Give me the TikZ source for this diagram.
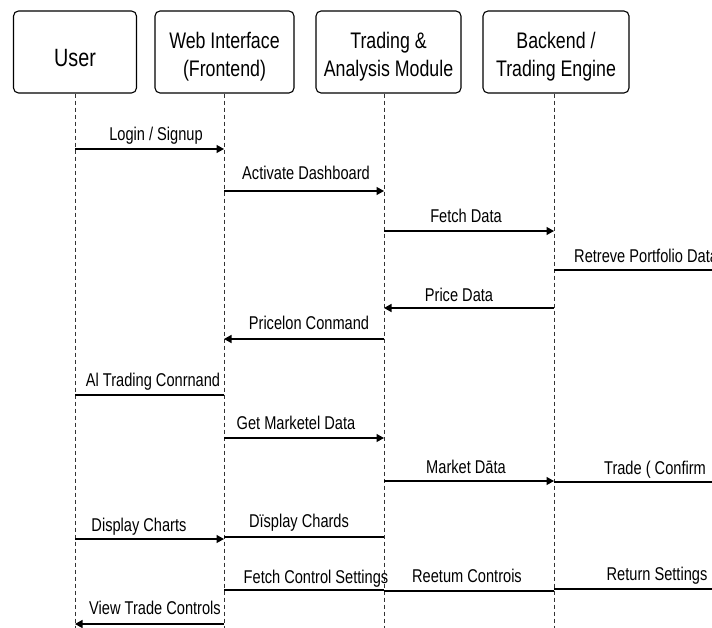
\documentclass[tikz,border=0pt]{standalone}
\usepackage{fontspec}
\setmainfont{Liberation Sans}[FakeStretch=0.79]
\usetikzlibrary{arrows.meta}
\begin{document}
\begin{tikzpicture}[x=1pt,y=-1pt,
  actor/.style={draw, line width=1.1pt, rounded corners=5pt, minimum height=82pt, inner sep=0pt},
  atext/.style={align=center, inner sep=0pt, font=\fontsize{22.5}{28}\selectfont},
  life/.style={line width=0.8pt, black!80, dash pattern=on 4pt off 3pt},
  msg/.style={line width=1.3pt},
  arr/.style={msg, -{Triangle[length=7.5pt,width=8pt]}},
  lbl/.style={anchor=base, inner sep=0pt, font=\fontsize{18.5}{22}\selectfont}]
\useasboundingbox (0,0) rectangle (712,628);
\clip (0,0) rectangle (712,628);
% actors
\node[actor, minimum width=123pt] (ub) at (75,52) {};
\node[actor, minimum width=139pt] (wb) at (224.5,52) {};
\node[actor, minimum width=145pt] (tb) at (388.5,52) {};
\node[actor, minimum width=146pt] (bb) at (556,52) {};
\node[atext, font=\fontsize{25}{28}\selectfont] (ut) at ([yshift=-6pt]ub.center) {User};
\node[atext] (wt) at ([yshift=-4.5pt]wb.center) {Web Interface\\(Frontend)};
\node[atext] (tt) at ([yshift=-4.5pt]tb.center) {Trading \&\\Analysis Module};
\node[atext] (bt) at ([yshift=-4.5pt]bb.center) {Backend /\\Trading Engine};
% lifeline ends
\coordinate (ul) at (75,628);
\coordinate (wl) at (224,628);
\coordinate (tl) at (384,628);
\coordinate (bl) at (554,628);
\draw[life] (ub.south -| ul) -- (ul);
\draw[life] (wb.south -| wl) -- (wl);
\draw[life] (tb.south -| tl) -- (tl);
\draw[life] (bb.south -| bl) -- (bl);
% message end points
\coordinate (m1a) at (75,149);  \coordinate (m1b) at (224,149);
\coordinate (m2a) at (224,191); \coordinate (m2b) at (384,191);
\coordinate (m3a) at (384,231); \coordinate (m3b) at (554,231);
\coordinate (m4a) at (554,270); \coordinate (m4b) at (712,270);
\coordinate (m5a) at (554,308); \coordinate (m5b) at (384,308);
\coordinate (m6a) at (384,339); \coordinate (m6b) at (224,339);
\coordinate (m7a) at (75,395);  \coordinate (m7b) at (224,395);
\coordinate (m8a) at (224,438); \coordinate (m8b) at (384,438);
\coordinate (m9a) at (384,481); \coordinate (m9b) at (554,481);
\coordinate (m10a) at (554,482); \coordinate (m10b) at (712,482);
\coordinate (m11a) at (75,539); \coordinate (m11b) at (224,539);
\coordinate (m12a) at (224,537); \coordinate (m12b) at (384,537);
\coordinate (m13a) at (224,590); \coordinate (m13b) at (384,590);
\coordinate (m14a) at (384,591); \coordinate (m14b) at (554,591);
\coordinate (m15a) at (554,589); \coordinate (m15b) at (712,589);
\coordinate (m16a) at (224,624); \coordinate (m16b) at (75,624);
% connectors
\draw[arr] (m1a) -- (m1b);
\draw[arr] (m2a) -- (m2b);
\draw[arr] (m3a) -- (m3b);
\draw[msg] (m4a) -- (m4b);
\draw[arr] (m5a) -- (m5b);
\draw[arr] (m6a) -- (m6b);
\draw[msg] (m7a) -- (m7b);
\draw[arr] (m8a) -- (m8b);
\draw[arr] (m9a) -- (m9b);
\draw[msg] (m10a) -- (m10b);
\draw[arr] (m11a) -- (m11b);
\draw[msg] (m12a) -- (m12b);
\draw[msg] (m13a) -- (m13b);
\draw[msg] (m14a) -- (m14b);
\draw[msg] (m15a) -- (m15b);
\draw[arr] (m16a) -- (m16b);
% labels
\node[lbl] (l1) at (156,141) {Login / Signup};
\node[lbl] (l2) at (306,180) {Activate Dashboard};
\node[lbl] (l3) at (466,222.5) {Fetch Data};
\node[lbl, anchor=base west] (l4) at (574,262.5) {Retreve Portfolio Data};
\node[lbl] (l5) at (459,301.5) {Price Data};
\node[lbl] (l6) at (309,330) {Pricelon Conmand};
\node[lbl] (l7) at (153,386) {Al Trading Conrnand};
\node[lbl] (l8) at (296,429) {Get Marketel Data};
\node[lbl] (l9) at (466,473) {Market Dāta};
\node[lbl] (l10) at (655,474) {Trade ( Confirm};
\node[lbl] (l11) at (139,531) {Display Charts};
\node[lbl] (l12) at (299,527) {Dïsplay Chards};
\node[lbl] (l13) at (316,583) {Fetch Control Settings};
\node[lbl] (l14) at (467,582) {Reetum Controis};
\node[lbl] (l15) at (657,580) {Return Settings};
\node[lbl] (l16) at (155,614) {View Trade Controls};
\end{tikzpicture}
\end{document}
